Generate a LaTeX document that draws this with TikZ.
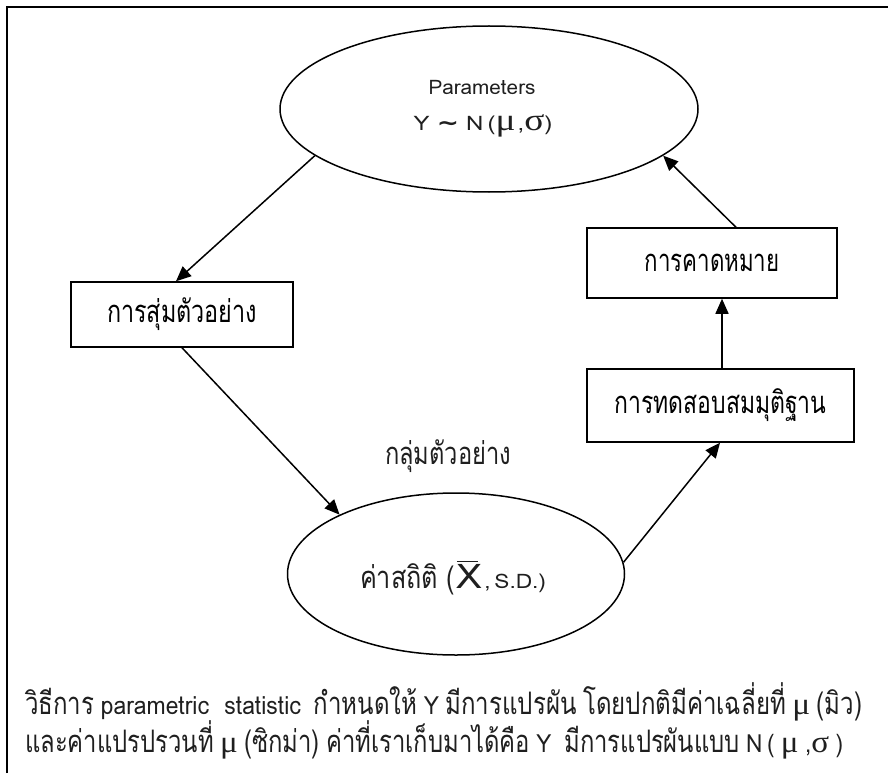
\documentclass[tikz,border=0pt]{standalone}
\usepackage{fontspec}
\usepackage{graphicx}
\setmainfont[Script=Thai]{Loma}
\newfontfamily\thaif[Script=Thai,FakeStretch=0.72]{Loma}
\newfontfamily\latf{Loma}
\newfontfamily\latn[FakeStretch=0.85]{Loma}
\newfontfamily\symf{Liberation Serif}
\newfontfamily\dvsf{DejaVu Sans}
\usetikzlibrary{arrows.meta,shapes.geometric}
\newcommand{\thtxt}[1]{{\thaif\fontsize{31}{34}\selectfont #1}}
\newcommand{\lttxt}[1]{{\latf\fontsize{20}{24}\selectfont #1}}
\newcommand{\ltbig}[1]{{\latn\fontsize{25}{28}\selectfont #1}}
\newcommand{\mymu}{{\symf\fontsize{31}{31}\selectfont μ}}
\newcommand{\mysig}{{\symf\fontsize{31}{31}\selectfont σ}}
\newcommand{\gp}{\hspace{6pt}}
\newcommand{\fitw}[2]{\resizebox{#1}{\height}{#2}}
\tikzset{
  frame/.style={line width=2pt},
  boxnode/.style={draw,line width=1.5pt,inner sep=0pt},
  ell/.style={draw,ellipse,line width=1.5pt,inner sep=0pt},
  lbl/.style={inner sep=0pt,text=black!88},
  note/.style={inner sep=0pt,anchor=west,text=black!88},
  arr/.style={line width=1.5pt,-{Triangle[length=15pt,width=13pt]}}
}
\begin{document}
\begin{tikzpicture}[x=1pt,y=-1pt]
\useasboundingbox (0,0) rectangle (888,773);
\coordinate (fa) at (7,773);
\coordinate (fb) at (7,7);
\coordinate (fc) at (888,7);
\draw[frame] (fa) -- (fb) -- (fc);

\node[ell,minimum width=418pt,minimum height=166pt] (ptop) at (489,109) {};
\node[lbl] (ptxt) at (482,87) {\fitw{107pt}{\lttxt{Parameters}}};
\node[lbl] (ytxt) at (483,126) {\fitw{139pt}{\lttxt{Y}\gp{\dvsf\bfseries\fontsize{22}{22}\selectfont ∼}\gp\lttxt{N\,(}\mymu\,\lttxt{,}\mysig\lttxt{)}}};

\node[boxnode,minimum width=222pt,minimum height=65pt] (b1) at (182,314.5) {\fitw{150pt}{\thtxt{การสุ่มตัวอย่าง}}};
\node[boxnode,minimum width=250pt,minimum height=70pt] (b2) at (712,263) {\fitw{135pt}{\thtxt{การคาดหมาย}}};
\node[boxnode,minimum width=267pt,minimum height=73pt] (b3) at (720.5,405.5) {\fitw{212pt}{\thtxt{การทดสอบสมมุติฐาน}}};

\node[lbl] (glbl) at (448,456) {\fitw{126pt}{\thtxt{กลุ่มตัวอย่าง}}};
\node[ell,minimum width=337pt,minimum height=162pt] (pbot) at (456,574) {};
\node[lbl] (stxt) at (453,578) {\fitw{186pt}{\thtxt{ค่าสถิติ (}\,{\latf\fontsize{34}{34}\selectfont\rlap{\raisebox{27pt}{\rule{19pt}{1.3pt}}}X}\,\lttxt{,\,S.D.)}}};

\node[note] (n1) at (25,702) {\fitw{837pt}{\thtxt{วิธีการ}\gp\ltbig{parametric\ \ statistic}\gp\gp\thtxt{กำหนดให้}\gp\ltbig{Y}\gp\thtxt{มีการแปรผัน}\gp\thtxt{โดยปกติมีค่าเฉลี่ยที่}\gp\mymu\gp\thtxt{(มิว)}}};
\node[note] (n2) at (25,740) {\fitw{818pt}{\thtxt{และค่าแปรปรวนที่}\gp\mymu\gp\thtxt{(ซิกม่า)}\gp\thtxt{ค่าที่เราเก็บมาได้คือ}\gp\ltbig{Y}\gp\gp\thtxt{มีการแปรผันแบบ}\gp\ltbig{N\,(}\gp\mymu\gp\ltbig{,}\mysig\gp\ltbig{)}}};

\draw[arr] (ptop.195) -- ([xshift=-6pt]b1.north);
\draw[arr] (b1.south) -- (pbot.153);
\draw[arr] (pbot.4) -- ([xshift=-0.5pt]b3.south);
\draw[arr] ([xshift=1.5pt]b3.north) -- ([xshift=10pt]b2.south);
\draw[arr] ([xshift=24pt]b2.north) -- (ptop.345);
\end{tikzpicture}
\end{document}
